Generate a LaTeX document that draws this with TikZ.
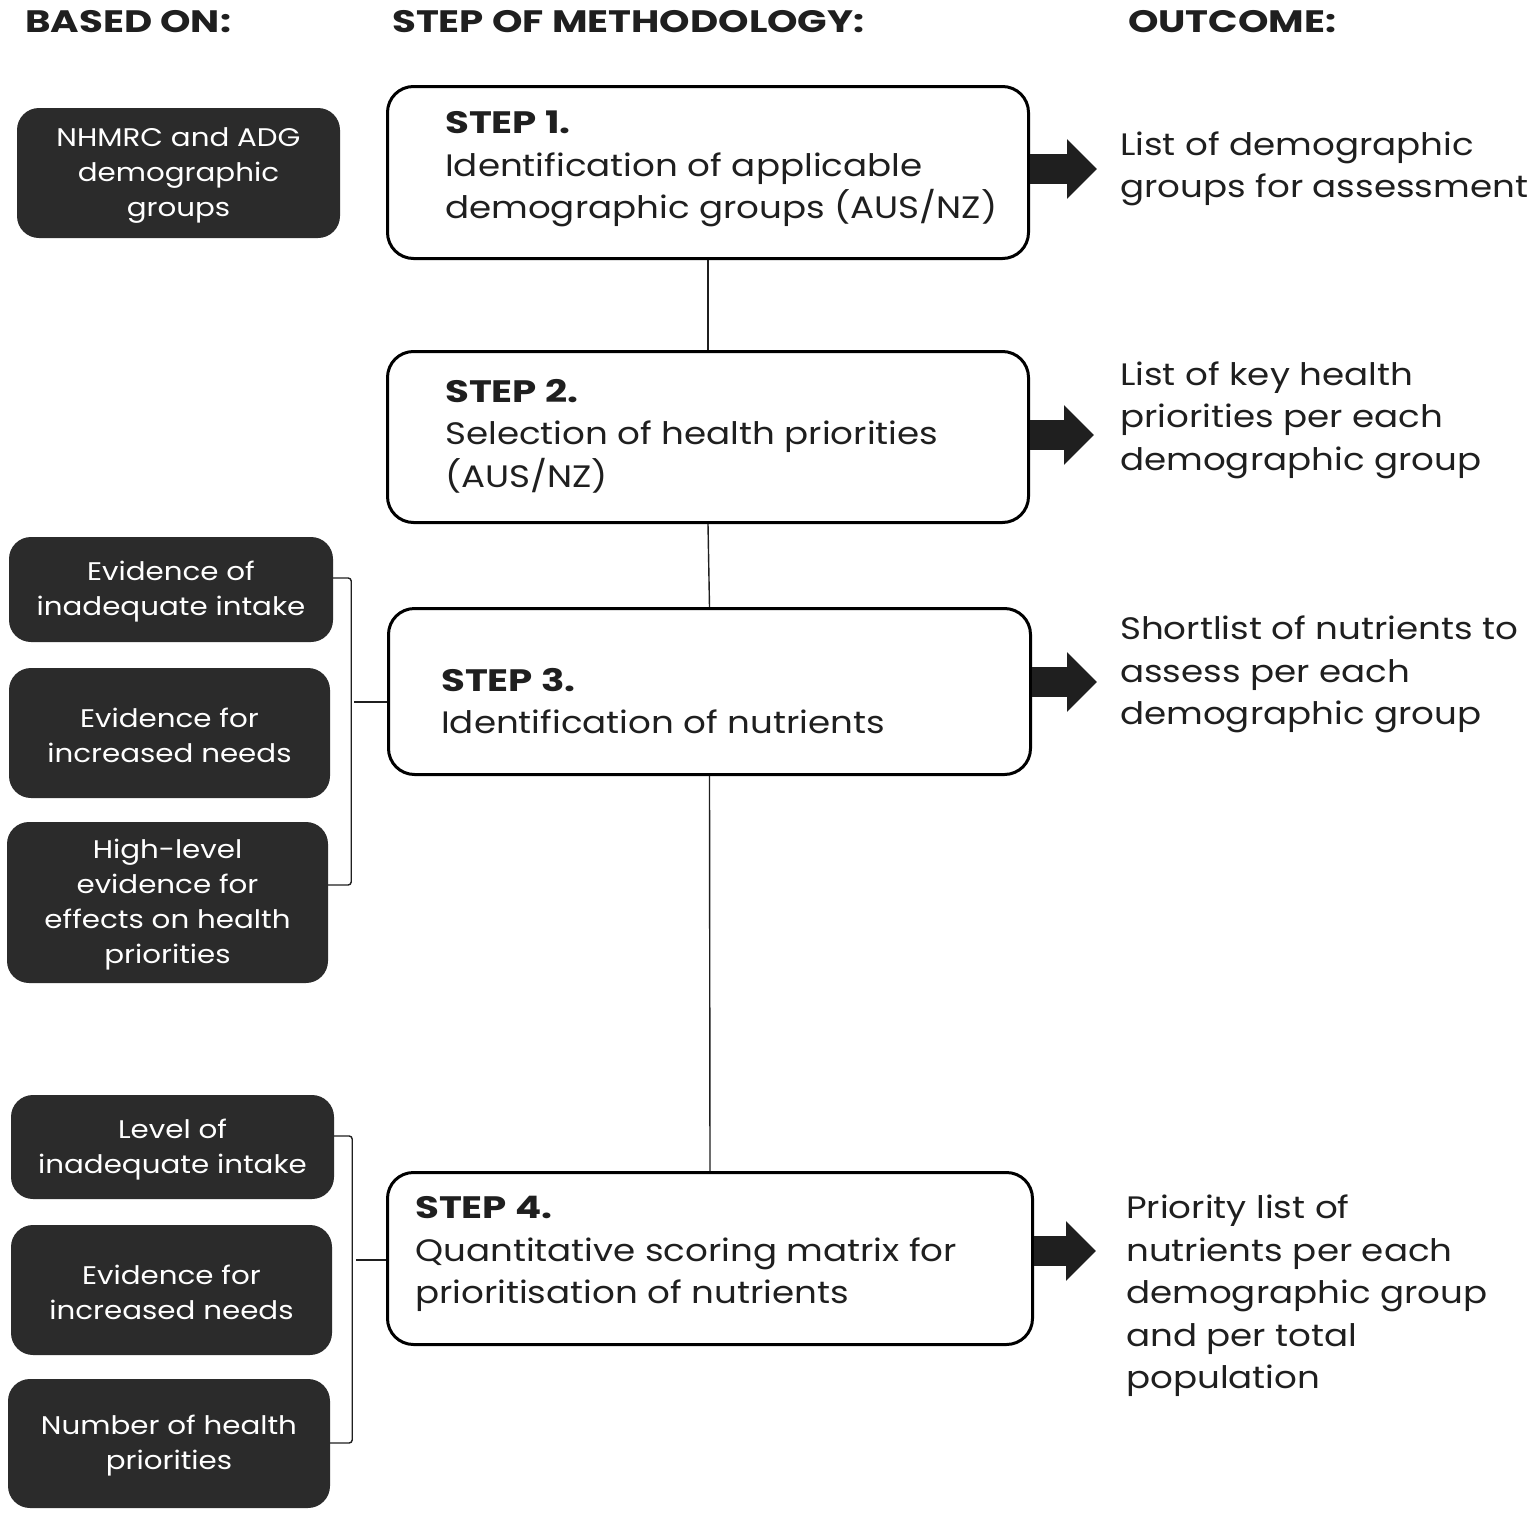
\documentclass[tikz,border=0pt]{standalone}
\usepackage{fontspec}
\setmainfont{Poppins}[FakeStretch=1.15]
\newfontfamily\boldf{Poppins}[FakeStretch=1.25]
\usetikzlibrary{arrows.meta}
\definecolor{dark}{HTML}{2B2B2B}
\definecolor{ink}{HTML}{1F1F1F}
\newcommand{\stp}[1]{{\boldf\bfseries #1}}
\begin{document}
\begin{tikzpicture}[x=1pt,y=-1pt,
 darkbox/.style={fill=dark, rounded corners=22pt, inner sep=0pt},
 darktext/.style={text=white, align=center, inner sep=0pt, font=\fontsize{25.5}{35}\selectfont},
 stepbox/.style={draw=black, line width=3pt, rounded corners=26pt, fill=white, inner sep=0pt},
 body/.style={anchor=west, inner sep=0pt, align=left, text=ink, font=\fontsize{31}{42.5}\selectfont},
 head/.style={anchor=west, inner sep=0pt, text=ink, font=\fontsize{31}{36}\selectfont\boldf\bfseries},
 conn/.style={draw=ink, line width=1.4pt, rounded corners=3pt},
 bigarrow/.style={draw=ink, line width=30pt, -{Triangle[length=30pt, width=58pt]}}
]
\useasboundingbox (0,0) rectangle (1535,1515);

% headers
\node[head] (h1) at (25,22) {BASED ON:};
\node[head] (h2) at (392,22) {STEP OF METHODOLOGY:};
\node[head] (h3) at (1128,22) {OUTCOME:};

% dark boxes
\node[darkbox, minimum width=323pt, minimum height=130pt] (a) at (178.5,173) {};
\node[darkbox, minimum width=324pt, minimum height=105pt] (b1) at (171,589.5) {};
\node[darkbox, minimum width=321pt, minimum height=130pt] (b2) at (169.5,733) {};
\node[darkbox, minimum width=321pt, minimum height=161pt] (b3) at (167.5,902.5) {};
\node[darkbox, minimum width=323pt, minimum height=104pt] (c1) at (172.5,1147) {};
\node[darkbox, minimum width=321pt, minimum height=130pt] (c2) at (171.5,1290) {};
\node[darkbox, minimum width=322pt, minimum height=129pt] (c3) at (169,1443.5) {};

\node[darktext] (at) at ([yshift=-2.5pt]a.center) {NHMRC and ADG\\demographic\\groups};
\node[darktext] (b1t) at ([yshift=-2.5pt]b1.center) {Evidence of\\inadequate intake};
\node[darktext] (b2t) at ([yshift=-2.5pt]b2.center) {Evidence for\\increased needs};
\node[darktext] (b3t) at ([yshift=-2pt]b3.center) {High-level\\evidence for\\effects on health\\priorities};
\node[darktext] (c1t) at ([yshift=-2.5pt]c1.center) {Level of\\inadequate intake};
\node[darktext] (c2t) at ([yshift=-2.5pt]c2.center) {Evidence for\\increased needs};
\node[darktext] (c3t) at ([yshift=-2.5pt]c3.center) {Number of health\\priorities};

% step boxes
\node[stepbox, minimum width=641pt, minimum height=172pt] (s1) at (708,172.5) {};
\node[stepbox, minimum width=641pt, minimum height=171pt] (s2) at (708,437) {};
\node[stepbox, minimum width=642pt, minimum height=166pt] (s3) at (709.5,691.5) {};
\node[stepbox, minimum width=645pt, minimum height=172pt] (s4) at (710,1258.5) {};

% step texts
\node[body] (t1) at (445,169) {\stp{STEP 1.}\\Identification of applicable\\demographic groups (AUS/NZ)};
\node[body] (t2) at (445,436) {\stp{STEP 2.}\\Selection of health priorities\\(AUS/NZ)};
\node[body] (t3) at (441,701) {\stp{STEP 3.}\\Identification of nutrients};
\node[body] (t4) at (415,1254) {\stp{STEP 4.}\\Quantitative scoring matrix for\\prioritisation of nutrients};

% outcome texts
\node[body] (o1) at (1120,169) {List of demographic\\groups for assessment};
\node[body] (o2) at (1120,420) {List of key health\\priorities per each\\demographic group};
\node[body] (o3) at (1120,674.5) {Shortlist of nutrients to\\assess per each\\demographic group};
\node[body] (o4) at (1126,1296) {Priority list of\\nutrients per each\\demographic group\\and per total\\population};

% vertical connectors
\draw[conn] (s1.south) -- (s2.north);
\draw[conn] (s2.south) -- (s3.north);
\draw[conn] (s3.south) -- (s4.north);

% brackets
\draw[conn] ([yshift=11.5pt]b1.east) -- ++(18,0) |- ([yshift=17.5pt]b3.east);
\draw[conn] ([yshift=-10.5pt]s3.west) -- ++(-33,0);
\draw[conn] ([yshift=11pt]c1.east) -- ++(18,0) |- ([yshift=0.5pt]c3.east);
\draw[conn] ([yshift=-1.5pt]s4.west) -- ++(-30,0);

% big arrows
\coordinate (e1) at (1097,169);
\coordinate (e2) at (1094,435);
\coordinate (e3) at (1097,682);
\coordinate (e4) at (1096,1251);
\draw[bigarrow] (s1.east |- e1) -- (e1);
\draw[bigarrow] (s2.east |- e2) -- (e2);
\draw[bigarrow] (s3.east |- e3) -- (e3);
\draw[bigarrow] (s4.east |- e4) -- (e4);
\end{tikzpicture}
\end{document}
